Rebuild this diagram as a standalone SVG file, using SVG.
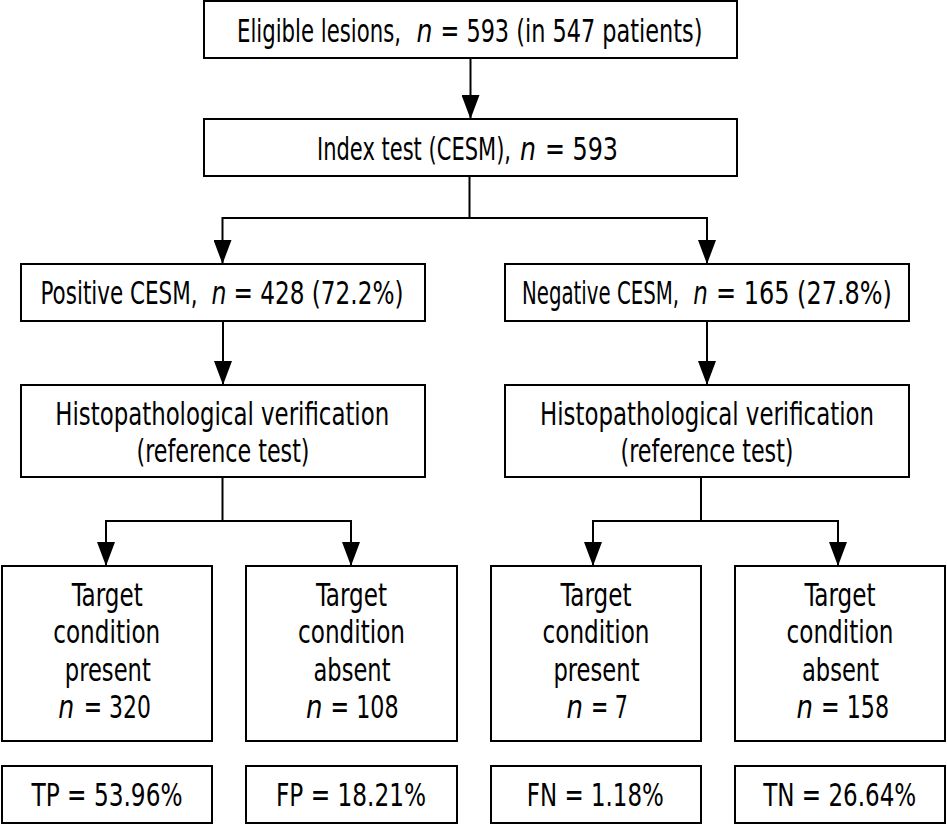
<svg xmlns="http://www.w3.org/2000/svg" width="947" height="825" viewBox="0 0 947 825">
<defs>
<style>
.box{fill:#fff;stroke:#000;stroke-width:2}
.t{font-family:"DejaVu Sans Condensed","DejaVu Sans","Liberation Sans",Arial,sans-serif;font-size:32.5px;fill:#000;text-anchor:middle}
.s{text-anchor:start}
.i{font-style:italic}
.c{fill:none;stroke:#000;stroke-width:2}
</style>
<marker id="ah" viewBox="0 -9 24 18" refX="24" refY="0" markerWidth="24" markerHeight="18" markerUnits="userSpaceOnUse" orient="auto">
<path d="M0,-9 L24,0 L0,9 Z" fill="#000"/>
</marker>
</defs>
<rect width="947" height="825" fill="#fff"/>
<g id="connectors">
<path class="c" d="M470.5,58 V119" marker-end="url(#ah)"/>
<path class="c" d="M469.5,176 V218 M222.5,218 H707"/>
<path class="c" d="M222.5,217 V264" marker-end="url(#ah)"/>
<path class="c" d="M707,217 V264" marker-end="url(#ah)"/>
<path class="c" d="M223,321 V385" marker-end="url(#ah)"/>
<path class="c" d="M707,321 V385" marker-end="url(#ah)"/>
<path class="c" d="M222.5,477 V521 M106,521 H351"/>
<path class="c" d="M106,520 V566" marker-end="url(#ah)"/>
<path class="c" d="M351,520 V566" marker-end="url(#ah)"/>
<path class="c" d="M701,477 V521 M593,521 H838"/>
<path class="c" d="M593,520 V566" marker-end="url(#ah)"/>
<path class="c" d="M838,520 V566" marker-end="url(#ah)"/>
</g>
<g id="eligible">
<rect class="box" x="204" y="1" width="533" height="57"/>
<text class="t s" transform="translate(237,42) scale(0.726,1)" textLength="225.9" lengthAdjust="spacingAndGlyphs">Eligible lesions,</text>
<text class="t s i" transform="translate(416.5,42) scale(0.85,1)" textLength="18.8" lengthAdjust="spacingAndGlyphs">n</text>
<text class="t s" transform="translate(440.5,42) scale(0.766,1)" textLength="342" lengthAdjust="spacingAndGlyphs">= 593 (in 547 patients)</text>
</g>
<g id="index">
<rect class="box" x="204" y="119" width="533" height="57"/>
<text class="t s" transform="translate(317,159.5) scale(0.717,1)" textLength="270.6" lengthAdjust="spacingAndGlyphs">Index test (CESM),</text>
<text class="t s i" transform="translate(520,159.5) scale(0.85,1)" textLength="18.8" lengthAdjust="spacingAndGlyphs">n</text>
<text class="t s" transform="translate(545,159.5) scale(0.815,1)" textLength="89.6" lengthAdjust="spacingAndGlyphs">= 593</text>
</g>
<g id="positive">
<rect class="box" x="21" y="264" width="404" height="57"/>
<text class="t s" transform="translate(40.5,304) scale(0.73,1)" textLength="215.1" lengthAdjust="spacingAndGlyphs">Positive CESM,</text>
<text class="t s i" transform="translate(211.5,304) scale(0.85,1)" textLength="17.6" lengthAdjust="spacingAndGlyphs">n</text>
<text class="t s" transform="translate(233.5,304) scale(0.792,1)" textLength="214.6" lengthAdjust="spacingAndGlyphs">= 428 (72.2%)</text>
</g>
<g id="negative">
<rect class="box" x="505" y="264" width="404" height="57"/>
<text class="t s" transform="translate(522,304) scale(0.675,1)" textLength="232.6" lengthAdjust="spacingAndGlyphs">Negative CESM,</text>
<text class="t s i" transform="translate(693.3,304) scale(0.85,1)" textLength="17.1" lengthAdjust="spacingAndGlyphs">n</text>
<text class="t s" transform="translate(716,304) scale(0.82,1)" textLength="214.6" lengthAdjust="spacingAndGlyphs">= 165 (27.8%)</text>
</g>
<g id="histo-left">
<rect class="box" x="21" y="385" width="404" height="92"/>
<text class="t" transform="translate(222.2,425) scale(0.78,1)" textLength="428.2" lengthAdjust="spacingAndGlyphs">Histopathological verification</text>
<text class="t" transform="translate(223,462) scale(0.78,1)" textLength="221.8" lengthAdjust="spacingAndGlyphs">(reference test)</text>
</g>
<g id="histo-right">
<rect class="box" x="505" y="385" width="404" height="92"/>
<text class="t" transform="translate(707,425) scale(0.78,1)" textLength="428.2" lengthAdjust="spacingAndGlyphs">Histopathological verification</text>
<text class="t" transform="translate(707,462) scale(0.78,1)" textLength="221.8" lengthAdjust="spacingAndGlyphs">(reference test)</text>
</g>
<g id="tp-node">
<rect class="box" x="2" y="566" width="210" height="175"/>
<text class="t" transform="translate(107.2,605.5) scale(0.78,1)" textLength="91" lengthAdjust="spacingAndGlyphs">Target</text>
<text class="t" transform="translate(106.7,643) scale(0.78,1)" textLength="137.2" lengthAdjust="spacingAndGlyphs">condition</text>
<text class="t" transform="translate(107.8,680.5) scale(0.78,1)" textLength="110.3" lengthAdjust="spacingAndGlyphs">present</text>
<text class="t s i" transform="translate(58.2,718) scale(0.85,1)" textLength="18.8" lengthAdjust="spacingAndGlyphs">n</text>
<text class="t s" transform="translate(83.8,718) scale(0.748,1)" textLength="89.6" lengthAdjust="spacingAndGlyphs">= 320</text>
</g>
<g id="fp-node">
<rect class="box" x="246" y="566" width="211" height="175"/>
<text class="t" transform="translate(351.5,605.5) scale(0.78,1)" textLength="91" lengthAdjust="spacingAndGlyphs">Target</text>
<text class="t" transform="translate(351.5,643) scale(0.78,1)" textLength="137.2" lengthAdjust="spacingAndGlyphs">condition</text>
<text class="t" transform="translate(352,680.5) scale(0.78,1)" textLength="98.7" lengthAdjust="spacingAndGlyphs">absent</text>
<text class="t s i" transform="translate(306,718) scale(0.85,1)" textLength="19.4" lengthAdjust="spacingAndGlyphs">n</text>
<text class="t s" transform="translate(330.6,718) scale(0.759,1)" textLength="89.6" lengthAdjust="spacingAndGlyphs">= 108</text>
</g>
<g id="fn-node">
<rect class="box" x="491" y="566" width="210" height="175"/>
<text class="t" transform="translate(596,605.5) scale(0.78,1)" textLength="91" lengthAdjust="spacingAndGlyphs">Target</text>
<text class="t" transform="translate(596,643) scale(0.78,1)" textLength="137.2" lengthAdjust="spacingAndGlyphs">condition</text>
<text class="t" transform="translate(596.5,680.5) scale(0.78,1)" textLength="110.3" lengthAdjust="spacingAndGlyphs">present</text>
<text class="t s i" transform="translate(566.6,718) scale(0.85,1)" textLength="19.4" lengthAdjust="spacingAndGlyphs">n</text>
<text class="t s" transform="translate(591,718) scale(0.706,1)" textLength="52.4" lengthAdjust="spacingAndGlyphs">= 7</text>
</g>
<g id="tn-node">
<rect class="box" x="735" y="566" width="210" height="175"/>
<text class="t" transform="translate(840,605.5) scale(0.78,1)" textLength="91" lengthAdjust="spacingAndGlyphs">Target</text>
<text class="t" transform="translate(840,643) scale(0.78,1)" textLength="137.2" lengthAdjust="spacingAndGlyphs">condition</text>
<text class="t" transform="translate(840.5,680.5) scale(0.78,1)" textLength="98.7" lengthAdjust="spacingAndGlyphs">absent</text>
<text class="t s i" transform="translate(796.6,718) scale(0.85,1)" textLength="19.4" lengthAdjust="spacingAndGlyphs">n</text>
<text class="t s" transform="translate(821,718) scale(0.759,1)" textLength="89.6" lengthAdjust="spacingAndGlyphs">= 158</text>
</g>
<g id="tp-result">
<rect class="box" x="2" y="766" width="210" height="57"/>
<text class="t" transform="translate(107,806) scale(0.78,1)" textLength="193.6" lengthAdjust="spacingAndGlyphs">TP = 53.96%</text>
</g>
<g id="fp-result">
<rect class="box" x="246" y="766" width="211" height="57"/>
<text class="t" transform="translate(351,806) scale(0.78,1)" textLength="192.3" lengthAdjust="spacingAndGlyphs">FP = 18.21%</text>
</g>
<g id="fn-result">
<rect class="box" x="491" y="766" width="210" height="57"/>
<text class="t" transform="translate(595.3,806) scale(0.78,1)" textLength="175.6" lengthAdjust="spacingAndGlyphs">FN = 1.18%</text>
</g>
<g id="tn-result">
<rect class="box" x="735" y="766" width="210" height="57"/>
<text class="t" transform="translate(839.7,806) scale(0.78,1)" textLength="196.2" lengthAdjust="spacingAndGlyphs">TN = 26.64%</text>
</g>
</svg>
